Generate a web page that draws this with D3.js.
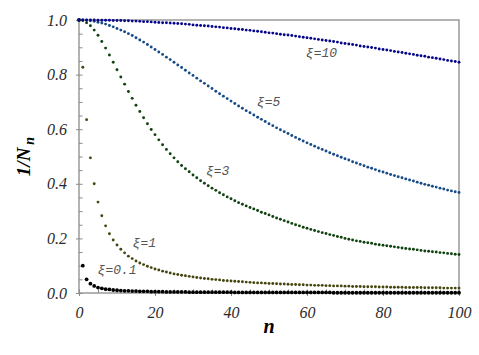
<!DOCTYPE html>
<html>
<head>
<meta charset="utf-8">
<script src="https://cdn.jsdelivr.net/npm/d3@7"></script>
<style>
  body { margin: 0; background: #fff; }
</style>
</head>
<body>
<script>
// n = 0 ... 100, one dot per n
var nValues = d3.range(0, 101);

// 1/N_n for each xi
var xi01 = [1.000,0.100,0.050,0.034,0.026,0.020,0.017,0.014,0.013,0.011,
  0.010,0.009,0.008,0.008,0.007,0.007,0.006,0.006,0.006,0.005,
  0.005,0.005,0.005,0.004,0.004,0.004,0.004,0.004,0.004,0.003,
  0.003,0.003,0.003,0.003,0.003,0.003,0.003,0.003,0.003,0.003,
  0.003,0.002,0.002,0.002,0.002,0.002,0.002,0.002,0.002,0.002,
  0.002,0.002,0.002,0.002,0.002,0.002,0.002,0.002,0.002,0.002,
  0.002,0.002,0.002,0.002,0.002,0.002,0.002,0.001,0.001,0.001,
  0.001,0.001,0.001,0.001,0.001,0.001,0.001,0.001,0.001,0.001,
  0.001,0.001,0.001,0.001,0.001,0.001,0.001,0.001,0.001,0.001,
  0.001,0.001,0.001,0.001,0.001,0.001,0.001,0.001,0.001,0.001,
  0.001];

var xi1 = [1.000,0.827,0.635,0.495,0.400,0.333,0.283,0.246,0.217,0.194,
  0.176,0.160,0.147,0.135,0.126,0.117,0.110,0.104,0.098,0.093,
  0.088,0.084,0.080,0.077,0.073,0.070,0.068,0.065,0.063,0.061,
  0.059,0.057,0.055,0.053,0.052,0.050,0.049,0.048,0.046,0.045,
  0.044,0.043,0.042,0.041,0.040,0.039,0.038,0.037,0.037,0.036,
  0.035,0.035,0.034,0.033,0.033,0.032,0.031,0.031,0.030,0.030,
  0.029,0.029,0.028,0.028,0.028,0.027,0.027,0.026,0.026,0.026,
  0.025,0.025,0.024,0.024,0.024,0.023,0.023,0.023,0.023,0.022,
  0.022,0.022,0.021,0.021,0.021,0.021,0.020,0.020,0.020,0.020,
  0.020,0.019,0.019,0.019,0.019,0.019,0.018,0.018,0.018,0.018,
  0.018];

var xi3 = [1.000,0.998,0.990,0.979,0.963,0.944,0.921,0.897,0.872,0.845,
  0.818,0.791,0.765,0.738,0.713,0.688,0.665,0.642,0.620,0.599,
  0.580,0.561,0.543,0.526,0.510,0.495,0.481,0.467,0.455,0.444,
  0.432,0.422,0.411,0.402,0.393,0.384,0.376,0.367,0.360,0.352,
  0.345,0.338,0.331,0.325,0.319,0.313,0.308,0.302,0.296,0.291,
  0.286,0.280,0.275,0.270,0.265,0.260,0.255,0.250,0.246,0.241,
  0.237,0.233,0.229,0.225,0.221,0.218,0.214,0.211,0.207,0.204,
  0.200,0.197,0.194,0.191,0.189,0.186,0.184,0.182,0.179,0.177,
  0.175,0.173,0.171,0.169,0.167,0.165,0.163,0.161,0.160,0.158,
  0.156,0.154,0.153,0.151,0.150,0.148,0.147,0.145,0.144,0.142,
  0.141];

var xi5 = [1.000,1.000,0.999,0.997,0.995,0.992,0.989,0.985,0.980,0.975,
  0.969,0.963,0.957,0.950,0.943,0.935,0.927,0.919,0.910,0.901,
  0.892,0.883,0.874,0.864,0.855,0.845,0.835,0.826,0.816,0.806,
  0.797,0.787,0.777,0.768,0.758,0.749,0.739,0.730,0.721,0.712,
  0.703,0.694,0.685,0.677,0.668,0.660,0.652,0.644,0.636,0.628,
  0.620,0.613,0.605,0.598,0.591,0.584,0.577,0.570,0.563,0.557,
  0.550,0.544,0.538,0.531,0.526,0.520,0.514,0.508,0.503,0.497,
  0.492,0.487,0.481,0.476,0.471,0.466,0.461,0.457,0.452,0.447,
  0.443,0.439,0.434,0.430,0.426,0.422,0.418,0.414,0.410,0.406,
  0.402,0.398,0.395,0.391,0.388,0.384,0.381,0.377,0.374,0.371,
  0.368];

var xi10 = [1.000,1.000,1.000,1.000,1.000,0.999,0.999,0.999,0.999,0.998,
  0.998,0.998,0.997,0.997,0.996,0.996,0.995,0.994,0.994,0.993,
  0.992,0.991,0.990,0.990,0.989,0.988,0.987,0.986,0.985,0.984,
  0.982,0.981,0.980,0.979,0.978,0.976,0.975,0.974,0.972,0.971,
  0.969,0.968,0.966,0.965,0.963,0.962,0.960,0.959,0.957,0.955,
  0.953,0.952,0.950,0.948,0.946,0.945,0.943,0.941,0.939,0.937,
  0.935,0.933,0.931,0.929,0.927,0.925,0.923,0.921,0.919,0.916,
  0.914,0.912,0.910,0.908,0.905,0.903,0.901,0.899,0.897,0.894,
  0.892,0.890,0.888,0.885,0.883,0.881,0.878,0.876,0.874,0.871,
  0.869,0.867,0.864,0.862,0.860,0.857,0.855,0.852,0.850,0.848,
  0.845];

var seriesNames = ["ξ=0.1", "ξ=1", "ξ=3", "ξ=5", "ξ=10"];
var seriesValues = [xi01, xi1, xi3, xi5, xi10];
// where each curve label sits, in data units (n, 1/N_n)
var labelN = [4.9, 14.1, 33.4, 46.8, 59.7];
var labelV = [0.07, 0.168, 0.432, 0.685, 0.864];

var xTicks = [0, 20, 40, 60, 80, 100];
var yTicks = [0, 0.2, 0.4, 0.6, 0.8, 1.0];

// styling
var colors = ["#000000", "#45450f", "#0f420f", "#164b88", "#06068a"];
var radius = [1.9, 1.45, 1.45, 1.45, 1.45];

var width = 479, height = 355;
var margin = {top: 20, right: 20, bottom: 62, left: 79};
var plotW = width - margin.left - margin.right;
var plotH = height - margin.top - margin.bottom;

var svg = d3.select('body').append('svg')
    .attr('width', width)
    .attr('height', height);

var x = d3.scaleLinear().domain([0, 100]).range([margin.left, margin.left + plotW]);
var y = d3.scaleLinear().domain([0, 1]).range([margin.top + plotH, margin.top]);

var axisColor = '#8a8a8a';
var serif = '"Liberation Serif", "Times New Roman", serif';

// minor ticks, inside
svg.append('g')
    .attr('transform', 'translate(' + margin.left + ',0)')
    .call(d3.axisLeft(y).tickValues(d3.range(0, 1.0001, 0.05)).tickSize(-3.5).tickFormat(''))
    .call(g => g.select('.domain').remove())
    .selectAll('line').attr('stroke', axisColor);

svg.append('g')
    .attr('transform', 'translate(0,' + (margin.top + plotH) + ')')
    .call(d3.axisBottom(x).tickValues(d3.range(0, 100.001, 5)).tickSize(-3.5).tickFormat(''))
    .call(g => g.select('.domain').remove())
    .selectAll('line').attr('stroke', axisColor);

// major ticks with labels
var yAxis = svg.append('g')
    .attr('transform', 'translate(' + margin.left + ',0)')
    .call(d3.axisLeft(y).tickValues(yTicks).tickSize(3).tickPadding(9).tickFormat(d3.format('.1f')));
yAxis.select('.domain').remove();
yAxis.selectAll('line').attr('stroke', axisColor);
yAxis.selectAll('text')
    .attr('fill', '#2a2a2a')
    .style('font-family', serif)
    .style('font-style', 'italic')
    .style('font-size', '16px');

var xAxis = svg.append('g')
    .attr('transform', 'translate(0,' + (margin.top + plotH) + ')')
    .call(d3.axisBottom(x).tickValues(xTicks).tickSize(3).tickPadding(11).tickFormat(d3.format('d')));
xAxis.select('.domain').remove();
xAxis.selectAll('line').attr('stroke', axisColor);
xAxis.selectAll('text')
    .attr('fill', '#2a2a2a')
    .style('font-family', serif)
    .style('font-style', 'italic')
    .style('font-size', '16px');

// frame
svg.append('rect')
    .attr('x', margin.left)
    .attr('y', margin.top)
    .attr('width', plotW)
    .attr('height', plotH)
    .attr('fill', 'none')
    .attr('stroke', axisColor)
    .attr('stroke-width', 1.3);

// dots
seriesValues.forEach(function (vals, i) {
    svg.append('g').selectAll('circle')
        .data(vals)
        .enter()
        .append('circle')
        .attr('cx', function (d, k) { return x(nValues[k]); })
        .attr('cy', function (d) { return y(d); })
        .attr('r', radius[i])
        .attr('fill', colors[i]);
});

// curve labels
svg.append('g').selectAll('text')
    .data(seriesNames)
    .enter()
    .append('text')
    .attr('x', function (d, i) { return x(labelN[i]); })
    .attr('y', function (d, i) { return y(labelV[i]); })
    .attr('fill', '#555')
    .style('font-family', '"Liberation Mono", "DejaVu Sans Mono", monospace')
    .style('font-style', 'italic')
    .style('font-size', '13px')
    .text(function (d) { return d; });

// axis titles
svg.append('text')
    .attr('x', margin.left + plotW / 2)
    .attr('y', 333)
    .attr('text-anchor', 'middle')
    .style('font-family', serif)
    .style('font-style', 'italic')
    .style('font-weight', 'bold')
    .style('font-size', '20px')
    .text('n');

var yTitle = svg.append('text')
    .attr('transform', 'translate(30,' + (margin.top + plotH / 2) + ') rotate(-90)')
    .attr('text-anchor', 'middle')
    .style('font-family', serif)
    .style('font-style', 'italic')
    .style('font-weight', 'bold')
    .style('font-size', '19px');
yTitle.append('tspan').text('1/N');
yTitle.append('tspan').attr('dx', 3).attr('dy', 4).style('font-size', '14px').text('n');
</script>
</body>
</html>
